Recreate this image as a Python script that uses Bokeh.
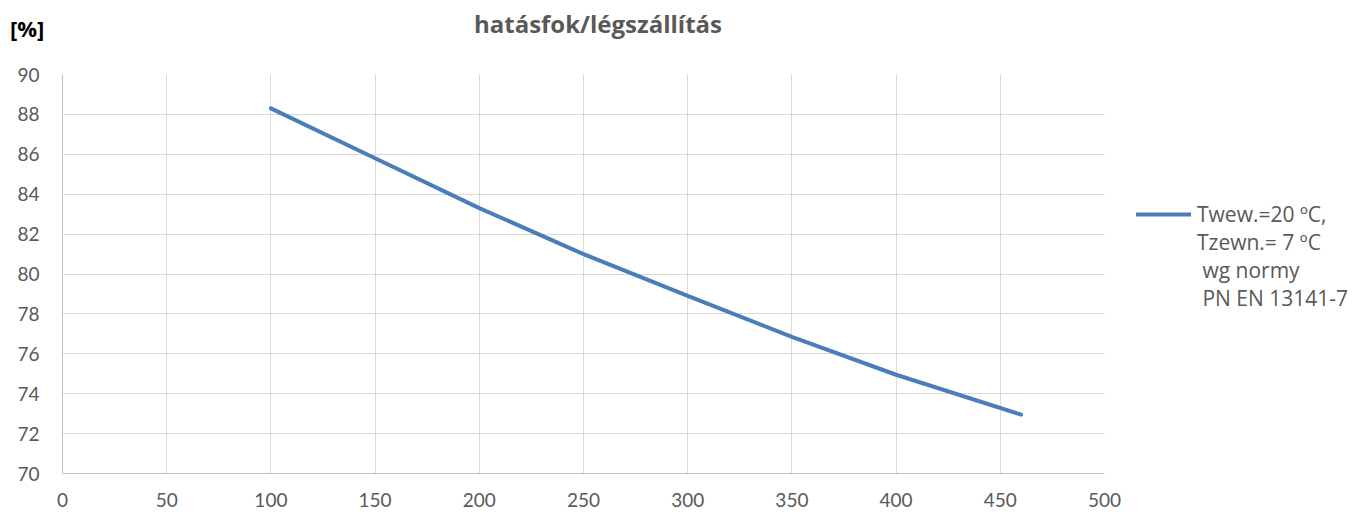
from bokeh.plotting import figure
from bokeh.models import FixedTicker, Range1d, Legend, LegendItem, Div
from bokeh.layouts import column
from bokeh.embed import file_html
from bokeh.resources import INLINE

# ---- data ----
airflow = [100, 150, 200, 250, 300, 350, 400, 460]
efficiency = [88.3, 85.8, 83.3, 81.0, 78.9, 76.85, 74.95, 72.95]
x_ticks = [0, 50, 100, 150, 200, 250, 300, 350, 400, 450, 500]
y_ticks = [70, 72, 74, 76, 78, 80, 82, 84, 86, 88, 90]
title_text = "hatásfok/légszállítás"
unit_text = "[%]"
legend_lines = ["Twew.=20 ºC,", "Tzewn.= 7 ºC", "\u00a0wg normy", "\u00a0PN EN 13141-7"]

FONT = "Open Sans"
TICK_FONT = "Lato"
GREY = "#595959"
BLUE = "#4a7ebb"

W = 1364
HEAD = 62                       # header strip height (title row)
TOP_GAP = 12                    # figure top border -> frame top at 74
FL, FR, FT, FB = 62, 1104, 74, 473

# ---- header strip with title and unit ----
head_html = (
    f'<div style="position:relative;width:{W}px;height:{HEAD}px;margin:0;padding:0;">'
    f'<div style="position:absolute;left:0;top:12px;width:1196px;text-align:center;'
    f'font-family:\'{FONT}\';font-size:24px;line-height:24px;font-weight:bold;color:{GREY};'
    f'white-space:nowrap;">{title_text}</div>'
    f'<div style="position:absolute;left:10px;top:17px;'
    f'font-family:\'{FONT}\';font-size:22px;line-height:22px;font-weight:bold;color:#000000;'
    f'white-space:nowrap;">{unit_text}</div>'
    '</div>'
)
head = Div(text=head_html, width=W, height=HEAD, margin=0)

# ---- main chart ----
p = figure(frame_width=FR - FL, frame_height=FB - FT, output_backend="svg", toolbar_location=None,
           x_range=Range1d(0, 500), y_range=Range1d(70, 90),
           min_border_left=FL, min_border_top=TOP_GAP,
           min_border_right=W - FR, min_border_bottom=515 - FB, margin=0)
p.outline_line_color = None
p.background_fill_color = "white"
p.border_fill_color = "white"

main = p.line(airflow, efficiency, line_color=BLUE, line_width=4, line_cap="round", line_join="round")
blank = p.line(x=[], y=[], line_alpha=0)

for ax in (p.xaxis[0], p.yaxis[0]):
    ax.major_tick_out = 0
    ax.major_tick_in = 0
    ax.minor_tick_out = 0
    ax.minor_tick_in = 0
    ax.axis_line_color = "#bfbfbf"
    ax.axis_line_width = 1
    ax.major_label_text_font = TICK_FONT
    ax.major_label_text_font_size = "19px"
    ax.major_label_text_color = GREY
p.xaxis[0].ticker = FixedTicker(ticks=x_ticks)
p.yaxis[0].ticker = FixedTicker(ticks=y_ticks)
p.xaxis[0].major_label_standoff = 19
p.yaxis[0].major_label_standoff = 23

p.xgrid[0].ticker = FixedTicker(ticks=x_ticks)
p.ygrid[0].ticker = FixedTicker(ticks=y_ticks)
p.grid.grid_line_color = "#d9d9d9"
p.grid.grid_line_width = 1

# legend in the right-hand panel
items = [LegendItem(label=legend_lines[0], renderers=[main])]
items += [LegendItem(label=t, renderers=[blank]) for t in legend_lines[1:]]
legend = Legend(items=items, location=(32, 161), orientation="vertical",
                glyph_width=55, glyph_height=20, label_standoff=6, spacing=0,
                padding=0, margin=0, border_line_color=None, background_fill_alpha=0,
                label_text_font=FONT, label_text_font_size="21px", label_text_color=GREY)
p.add_layout(legend, "right")

open("out.html", "w").write(file_html(column(head, p, spacing=0), INLINE))
